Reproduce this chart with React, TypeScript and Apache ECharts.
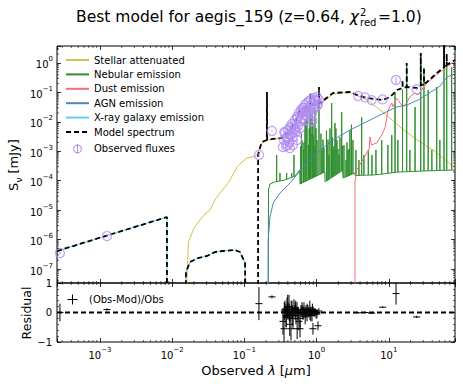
import React, { useEffect, useRef } from 'react';
import * as echarts from 'echarts';

const FONT = 'DejaVu Sans';
const X_MIN = 2.54e-4;
const X_MAX = 82.6;
const Y_MIN = 3.35e-8;
const Y_MAX = 3.78;
const ZERO = 1e-12;

const PURPLE = '#b08cf0';
const C_STELLAR = '#d6bf4a';
const C_NEB = '#2f8f2f';
const C_DUST = '#ef7079';
const C_AGN = '#4f84bd';
const C_XRAY = '#66ccee';

// ---- components (wavelength um, flux mJy) ----
const stellarAttenuated: number[][] = [
  [0.0159, ZERO], [0.0160, 4.23e-8], [0.0168, 8.27e-7], [0.0200, 2.4e-6], [0.02424, 4.63e-6],
  [0.02846, 7.4e-6], [0.03338, 1.01e-5], [0.0392, 2.21e-5], [0.04592, 3.83e-5], [0.0569, 7.16e-5],
  [0.0633, 1.06e-4], [0.079, 2.92e-4], [0.0926, 4.33e-4], [0.1089, 5.91e-4], [0.1274, 6.4e-4],
  [0.15, 7.48e-4], [0.164, 1.29e-3], [0.175, 1.91e-3], [0.212, 2.42e-3], [0.343, 2.83e-3],
  [0.428, 5.29e-3], [0.519, 0.0116], [0.589, 0.0216], [0.811, 0.0346], [1.114, 0.0405],
  [1.69, 0.0885], [2.9, 0.1], [4.99, 0.0553], [8.32, 0.0216], [14.3, 6.69e-3], [24.6, 2.42e-3],
  [40.9, 1.11e-3], [82.6, 2.7e-4],
];

const nebularContinuum: number[][] = [
  [0.2122, ZERO], [0.2157, 4.84e-5], [0.2262, 7.74e-5], [0.262, 9.05e-5], [0.365, 1.06e-4],
  [0.502, 1.45e-4], [0.585, 2.31e-4], [0.59, 7.74e-5], [1.3, 1.98e-4], [1.31, 9.05e-5],
  [2.32, 2.31e-4], [2.33, 1.24e-4], [3.4, 1.83e-4], [3.43, 1.5e-4], [5.85, 1.56e-4],
  [14.3, 1.98e-4], [82.6, 2.31e-4],
];
// [wavelength, base, peak]
const nebularLines: number[][] = [
  [0.28, 9.3e-5, 7.48e-4], [0.311, 9.8e-5, 1.83e-4], [0.385, 1.11e-4, 1.83e-4], [0.452, 1.3e-4, 1.83e-4],
  [0.486, 1.4e-4, 7.48e-4], [0.604, 7.9e-5, 1.5e-3], [0.617, 8.1e-5, 4e-3], [0.628, 8.34e-5, 2.42e-3],
  [0.658, 8.81e-5, 1.11e-3], [0.669, 9.0e-5, 2e-3], [0.691, 9.35e-5, 0.01], [0.713, 9.7e-5, 0.012],
  [0.736, 1.01e-4, 0.0116], [0.772, 1.07e-4, 1.64e-3], [0.79, 1.09e-4, 6e-3], [0.81, 1.13e-4, 0.0146],
  [0.821, 1.15e-4, 0.054], [0.836, 1.17e-4, 4e-3], [0.864, 1.22e-4, 0.018], [0.891, 1.26e-4, 9e-3],
  [0.906, 1.29e-4, 3.58e-3], [0.925, 1.32e-4, 1.5e-3], [0.95, 1.37e-4, 0.025], [0.981, 1.42e-4, 6e-3],
  [1.013, 1.47e-4, 2.42e-3], [1.08, 1.59e-4, 0.112], [1.15, 1.7e-4, 4e-3], [1.187, 1.78e-4, 1.11e-3],
  [1.226, 1.86e-4, 2.5e-3], [1.265, 1.93e-4, 1.3e-3], [1.37, 9.8e-5, 5e-3], [1.393, 1.0e-4, 1.64e-3],
  [1.438, 1.05e-4, 2.5e-3], [1.484, 1.11e-4, 7.48e-4], [1.532, 1.17e-4, 6e-3], [1.618, 1.28e-4, 0.0437],
  [1.648, 1.32e-4, 3e-3], [1.685, 1.37e-4, 1.11e-3], [1.737, 1.44e-4, 1.5e-3], [1.798, 1.52e-4, 9.15e-3],
  [1.852, 1.6e-4, 6e-3], [1.915, 1.69e-4, 2.42e-3], [1.977, 1.78e-4, 1.2e-3], [2.041, 1.87e-4, 7.48e-4],
  [2.107, 1.97e-4, 3e-3], [2.227, 2.16e-4, 0.0216], [2.28, 2.25e-4, 1.5e-3], [2.393, 1.27e-4, 1.64e-3],
  [2.552, 1.36e-4, 5.06e-4], [2.635, 1.4e-4, 2e-3], [2.72, 1.45e-4, 1.11e-3], [2.81, 1.5e-4, 1.2e-3],
  [2.897, 1.55e-4, 5.29e-3], [3.04, 1.62e-4, 8e-3], [3.187, 1.71e-4, 2.42e-3], [3.508, 1.51e-4, 1.11e-3],
  [3.859, 1.52e-4, 5.06e-4], [4.21, 1.53e-4, 0.0146], [4.526, 1.54e-4, 7.48e-4], [5.2, 1.55e-4, 1.11e-3],
  [5.84, 1.56e-4, 7.48e-4], [6.64, 1.6e-4, 1.11e-3], [7.98, 1.68e-4, 2.42e-3], [9.72, 1.78e-4, 1.64e-3],
  [11.0, 1.86e-4, 3.58e-3], [12.2, 1.92e-4, 0.1035], [13.37, 1.96e-4, 2.42e-3], [15.5, 2.0e-4, 0.124],
  [17.7, 2.03e-4, 0.85], [19.6, 2.05e-4, 1.11e-3], [23.1, 2.08e-4, 0.032], [27.7, 2.12e-4, 2.0],
  [30.7, 2.14e-4, 0.54], [35.1, 2.17e-4, 0.121], [39.5, 2.19e-4, 1.11e-3], [46.1, 2.22e-4, 0.153],
  [51.0, 2.24e-4, 2.42e-3], [58.2, 2.26e-4, 8], [63.4, 2.27e-4, 1.26], [74.3, 2.29e-4, 0.731],
];

const dustEmission: number[][] = [
  [3.4, ZERO], [3.4, 8.37e-5], [3.59, 2.31e-4], [4.21, 4.43e-4], [4.94, 8.75e-4], [5.32, 1.11e-3],
  [5.49, 3.06e-3], [5.76, 1.64e-3], [6.8, 1.91e-3], [7.98, 3.57e-3], [8.86, 6.18e-3], [9.35, 0.0135],
  [9.84, 0.0253], [10.4, 0.0328], [11.0, 0.0438], [11.5, 0.0328], [12.2, 0.0484], [12.9, 0.0632],
  [14.3, 0.0438], [15.7, 0.0328], [17.7, 0.0438], [19.7, 0.0716], [23.1, 0.0957], [25.4, 0.0818],
  [29.8, 0.142], [34.9, 0.226], [40.9, 0.309], [51.2, 0.494], [63.4, 0.731], [82.6, 1.17],
];

const agnEmission: number[][] = [
  [0.211, ZERO], [0.214, 9.68e-7], [0.226, 5.85e-6], [0.251, 1.75e-5], [0.311, 3.83e-5], [0.428, 8.37e-5],
  [0.589, 2.14e-4], [0.811, 5.06e-4], [1.0, 8.75e-4], [1.69, 2.42e-3], [2.9, 5.29e-3], [4.94, 0.0101],
  [6.8, 0.015], [9.35, 0.0221], [12.9, 0.032], [17.7, 0.0374], [25.4, 0.0553], [34.9, 0.0885],
  [51.2, 0.165], [64.0, 0.334], [82.6, 0.423],
];

const xrayGalaxy: number[][] = [
  [2.54e-4, 4.09e-7], [8.47e-3, 5.85e-6], [8.48e-3, ZERO], [0.0154, ZERO], [0.0155, 7.9e-8],
  [0.0177, 1.73e-7], [0.0228, 2.36e-7], [0.0303, 2.77e-7], [0.0392, 3.79e-7], [0.0506, 4.1e-7],
  [0.0741, 4.43e-7], [0.0869, 3.79e-7], [0.102, 1.6e-7], [0.109, ZERO],
];

const modelSpectrum: number[][] = [
  [2.54e-4, 4.09e-7], [8.47e-3, 5.85e-6], [8.48e-3, ZERO], [0.0154, ZERO], [0.0155, 7.9e-8],
  [0.0177, 1.73e-7], [0.0228, 2.36e-7], [0.0303, 2.77e-7], [0.0392, 3.79e-7], [0.0506, 4.1e-7],
  [0.0741, 4.43e-7], [0.0869, 3.79e-7], [0.102, 1.6e-7], [0.109, ZERO], [0.1545, ZERO],
  [0.155, 7.5e-4], [0.164, 1.29e-3], [0.175, 2.07e-3], [0.2045, 2.42e-3], [0.2056, 0.1035],
  [0.2067, 2.45e-3], [0.249, 2.62e-3], [0.343, 2.9e-3], [0.428, 5.3e-3], [0.519, 0.012],
  [0.589, 0.025], [0.69, 0.032], [0.818, 0.036], [0.821, 0.09], [0.824, 0.0362], [1.075, 0.041],
  [1.08, 0.153], [1.085, 0.0415], [1.114, 0.0438], [1.69, 0.0957], [2.9, 0.1035], [3.63, 0.0818],
  [4.99, 0.0647], [8.32, 0.0553], [10.4, 0.07], [13.0, 0.121], [15.5, 0.14], [15.5, 0.264],
  [15.6, 0.142], [17.7, 0.153], [17.7, 1.0], [17.8, 0.153], [24.6, 0.142], [27.7, 0.17], [27.7, 2.19],
  [27.8, 0.172], [30.7, 0.193], [30.7, 0.731], [30.8, 0.195], [33.8, 0.226], [46.5, 0.457],
  [58.2, 0.72], [58.2, 8], [58.4, 0.73], [63.4, 0.84], [63.4, 2.1], [63.6, 0.86], [82.6, 1.26],
];

// ---- observations ----
const obsWavelength = [
  2.79e-4, 1.25e-3, 0.159, 0.241,
  0.354, 0.365, 0.377, 0.389, 0.402, 0.415, 0.428, 0.442, 0.456, 0.471,
  0.486, 0.502, 0.518, 0.535, 0.553, 0.57, 0.589, 0.608, 0.628, 0.648,
  0.669, 0.691, 0.713, 0.736, 0.76, 0.785, 0.81, 0.836, 0.864, 0.891,
  0.92, 0.95, 0.981, 1.013, 1.046, 0.875,
  0.357, 0.38, 0.398, 0.418, 0.445, 0.468, 0.505, 0.515, 0.55, 0.592,
  0.632, 0.665, 0.695, 0.74, 0.782, 0.832, 0.895, 0.945, 1.01, 1.075,
  0.806, 0.538, 0.342, 0.425,
  3.78, 4.68, 5.79, 8.23, 12.6, 24.3,
];
const obsFlux = [
  3.5e-7, 1.32e-6, 7.5e-4, 4.9e-3,
  0.00242, 0.00418, 0.00151, 0.00306, 0.00529, 0.00207, 0.00669, 0.00358, 0.00846, 0.00164,
  0.00572, 0.0116, 0.00452, 0.0146, 0.00723, 0.02, 0.0107, 0.0253, 0.0135, 0.0296,
  0.0171, 0.0374, 0.0216, 0.0437, 0.0253, 0.0511, 0.032, 0.0553, 0.02, 0.0404,
  0.0647, 0.0296, 0.0511, 0.0699, 0.0404, 0.0107,
  0.00452, 0.00283, 0.00164, 0.00387, 0.00619, 0.00306, 0.00529, 0.00846, 0.0135, 0.00619,
  0.0216, 0.0296, 0.0116, 0.0171, 0.0216, 0.0146, 0.0296, 0.0553, 0.0346, 0.0553,
  0.00992, 0.00242, 0.0014, 0.00129,
  0.0757, 0.068, 0.055, 0.058, 0.264, 0.128,
];
const obsError = [
  0.4e-7, 0.12e-6, 1.2e-4, 3e-4,
  0.0003, 0.0005, 0.0002, 0.0004, 0.0006, 0.0003, 0.0008, 0.0004, 0.001, 0.0002,
  0.0007, 0.0013, 0.0005, 0.0016, 0.0008, 0.0022, 0.0012, 0.0027, 0.0015, 0.0032,
  0.0019, 0.004, 0.0024, 0.0045, 0.0027, 0.005, 0.0034, 0.0055, 0.0022, 0.0042,
  0.0065, 0.003, 0.005, 0.007, 0.0042, 0.0012,
  0.0005, 0.0003, 0.0002, 0.0004, 0.0007, 0.0004, 0.0006, 0.001, 0.0015, 0.0008,
  0.0025, 0.003, 0.0013, 0.002, 0.0025, 0.0017, 0.0035, 0.006, 0.004, 0.006,
  0.0012, 0.0003, 0.0002, 0.0002,
  0.003, 0.003, 0.0025, 0.003, 0.07, 0.008,
];
const residual = [
  0.0, 0.1, 0.3, 0.53,
  -0.55, 0.1, -0.1, 0.15, 0.05, 0.2, -0.05, -0.55, 0.1, -0.2,
  0.15, 0.05, -0.1, 0.1, 0.0, -0.3, -0.55, 0.05, 0.1, -0.05,
  0.15, 0.0, 0.05, -0.1, 0.1, 0.0, -0.05, 0.05, -0.1, -0.55,
  0.0, 0.05, -0.05, 0.0, -0.45, 0.1,
  0.05, -0.15, 0.2, 0.0, 0.1, -0.1, 0.05, 0.15, -0.05, -0.2,
  0.05, 0.0, -0.15, 0.1, 0.0, -0.1, 0.05, 0.0, -0.05, 0.05,
  0.15, -0.55, -0.3, -0.4,
  -0.01, 0.0, -0.02, 0.18, 0.64, -0.15,
];
const residualError = [
  0.3, 0.04, 0.56, 0.05,
  0.45, 0.3, 0.4, 0.35, 0.3, 0.4, 0.25, 0.4, 0.3, 0.35,
  0.3, 0.2, 0.3, 0.25, 0.2, 0.3, 0.3, 0.2, 0.25, 0.2,
  0.2, 0.15, 0.2, 0.2, 0.15, 0.15, 0.2, 0.15, 0.2, 0.2,
  0.15, 0.1, 0.15, 0.1, 0.15, 0.2,
  0.3, 0.35, 0.4, 0.3, 0.3, 0.35, 0.3, 0.25, 0.2, 0.3,
  0.2, 0.2, 0.25, 0.2, 0.15, 0.2, 0.15, 0.1, 0.15, 0.1,
  0.25, 0.35, 0.45, 0.4,
  0.02, 0.02, 0.02, 0.03, 0.37, 0.04,
];

// ---- ticks ----
const minorMantissas = [2, 3, 4, 5, 6, 7, 8, 9];
const xDecades = [-4, -3, -2, -1, 0, 1];
const yDecades = [-8, -7, -6, -5, -4, -3, -2, -1, 0];

function minorTicks(decades: number[], lo: number, hi: number) {
  const out: number[] = [];
  decades.forEach((d) => minorMantissas.forEach((m) => {
    const v = m * Math.pow(10, d);
    if (v > lo && v < hi) out.push(v);
  }));
  return out;
}

function buildNebular() {
  const pts: number[][] = nebularContinuum.map((p) => [p[0], p[1]]);
  nebularLines.forEach((l) => {
    pts.push([l[0], l[1]]);
    pts.push([l[0], l[2]]);
    pts.push([l[0], l[1]]);
  });
  return pts.map((p, i) => ({ p, i }))
    .sort((a, b) => (a.p[0] - b.p[0]) || (a.i - b.i))
    .map((o) => o.p);
}

const supLabel = (v: number) => {
  const e = Math.log10(v);
  const r = Math.round(e);
  if (Math.abs(e - r) > 1e-6) return '';
  return `{b|10}{s|${r < 0 ? '\u2212' + -r : r}}`;
};
const supRich = {
  b: { fontFamily: FONT, fontSize: 10, color: '#000', lineHeight: 14, verticalAlign: 'bottom' },
  s: { fontFamily: FONT, fontSize: 7, color: '#000', lineHeight: 8, verticalAlign: 'top' },
};

const majorTick = { show: true, inside: true, length: 4, lineStyle: { color: '#000', width: 0.8 } };
const noLine = { show: false, onZero: false };

function logAxis(grid: number, pos: string, min: number, max: number, split: number, labels: boolean) {
  return {
    gridIndex: grid, type: 'log', position: pos, min, max, splitNumber: split,
    axisLine: noLine, axisTick: majorTick, splitLine: { show: false },
    axisLabel: labels
      ? { show: true, formatter: supLabel, rich: supRich, margin: 4, hideOverlap: false }
      : { show: false },
  };
}
function resAxis(pos: string, labels: boolean) {
  return {
    gridIndex: 1, type: 'value', position: pos, min: -1, max: 1, interval: 1,
    axisLine: noLine, axisTick: majorTick, splitLine: { show: false },
    minorTick: { show: true, splitNumber: 5, length: 2, lineStyle: { color: '#000', width: 0.6 } },
    axisLabel: labels
      ? { show: true, fontFamily: FONT, fontSize: 10, color: '#000', margin: 5,
          formatter: (v: number) => (v < 0 ? '\u2212' + -v : String(v)) }
      : { show: false },
  };
}

function minorTickSeries(values: number[], xi: number, yi: number, isX: boolean, yRef: number, xRef: number) {
  return {
    type: 'custom', xAxisIndex: xi, yAxisIndex: yi, silent: true, z: 10,
    data: values.map((v) => (isX ? [v, yRef] : [xRef, v])),
    renderItem: (params: any, api: any) => {
      const cs = params.coordSys;
      const p = api.coord([api.value(0), api.value(1)]);
      const st = { stroke: '#000', lineWidth: 0.6 };
      if (isX) {
        return { type: 'group', children: [
          { type: 'line', shape: { x1: p[0], y1: cs.y, x2: p[0], y2: cs.y + 2 }, style: st },
          { type: 'line', shape: { x1: p[0], y1: cs.y + cs.height - 2, x2: p[0], y2: cs.y + cs.height }, style: st },
        ] };
      }
      return { type: 'group', children: [
        { type: 'line', shape: { x1: cs.x, y1: p[1], x2: cs.x + 2, y2: p[1] }, style: st },
        { type: 'line', shape: { x1: cs.x + cs.width - 2, y1: p[1], x2: cs.x + cs.width, y2: p[1] }, style: st },
      ] };
    },
  };
}

function buildOption() {
  const obsPoints = obsWavelength.map((l, i) => [l, obsFlux[i]]);
  const obsBars = obsWavelength.map((l, i) => [l, Math.max(obsFlux[i] - obsError[i], obsFlux[i] * 0.05), obsFlux[i] + obsError[i]]);
  const resData = obsWavelength.map((l, i) => [l, residual[i], residualError[i]]);
  const lineBase = { type: 'line', xAxisIndex: 0, yAxisIndex: 0, showSymbol: false, symbol: 'none', clip: true, silent: true };
  const xMinor = minorTicks(xDecades, X_MIN, X_MAX);
  const yMinor = minorTicks(yDecades, Y_MIN, Y_MAX);
  const hideSym = { opacity: 0 };

  return {
    animation: false,
    backgroundColor: '#fff',
    textStyle: { fontFamily: FONT },
    grid: [
      { left: 57, top: 46, width: 398, height: 237, show: true, borderColor: '#000', borderWidth: 1, backgroundColor: 'transparent' },
      { left: 57, top: 283, width: 398, height: 59, show: true, borderColor: '#000', borderWidth: 1, backgroundColor: 'transparent' },
    ],
    xAxis: [
      logAxis(0, 'bottom', X_MIN, X_MAX, 5, false),
      logAxis(0, 'top', X_MIN, X_MAX, 5, false),
      logAxis(1, 'bottom', X_MIN, X_MAX, 5, true),
      logAxis(1, 'top', X_MIN, X_MAX, 5, false),
    ],
    yAxis: [
      logAxis(0, 'left', Y_MIN, Y_MAX, 8, true),
      logAxis(0, 'right', Y_MIN, Y_MAX, 8, false),
      resAxis('left', true),
      resAxis('right', false),
    ],
    legend: [
      {
        left: 65, top: 55, orient: 'vertical', padding: 0, itemGap: 4.4, itemWidth: 23, itemHeight: 10,
        selectedMode: false,
        textStyle: { fontFamily: FONT, fontSize: 10, color: '#000' },
        data: [
          { name: 'Stellar attenuated', itemStyle: hideSym },
          { name: 'Nebular emission', itemStyle: hideSym },
          { name: 'Dust emission', itemStyle: hideSym },
          { name: 'AGN emission', itemStyle: hideSym },
          { name: 'X-ray galaxy emission', itemStyle: hideSym },
          { name: 'Model spectrum', itemStyle: hideSym },
          { name: 'Observed fluxes', icon: 'path://M4 0L4 10M0 5A4 4 0 1 0 8 5A4 4 0 1 0 0 5Z',
            itemStyle: { color: 'none', borderColor: PURPLE, borderWidth: 1, opacity: 1 } },
        ],
      },
      {
        left: 65, top: 292, orient: 'vertical', padding: 0, itemWidth: 23, itemHeight: 10,
        selectedMode: false,
        textStyle: { fontFamily: FONT, fontSize: 10, color: '#000' },
        data: [
          { name: '(Obs-Mod)/Obs', icon: 'path://M0 5L10 5M5 0L5 10',
            itemStyle: { color: 'none', borderColor: '#000', borderWidth: 1 } },
        ],
      },
    ],
    series: [
      { ...lineBase, name: 'Stellar attenuated', data: stellarAttenuated, lineStyle: { color: C_STELLAR, width: 1 }, itemStyle: { color: C_STELLAR }, z: 2 },
      { ...lineBase, name: 'Nebular emission', data: buildNebular(), lineStyle: { color: C_NEB, width: 1 }, itemStyle: { color: C_NEB }, z: 2 },
      { ...lineBase, name: 'Dust emission', data: dustEmission, lineStyle: { color: C_DUST, width: 1 }, itemStyle: { color: C_DUST }, z: 2 },
      { ...lineBase, name: 'AGN emission', data: agnEmission, lineStyle: { color: C_AGN, width: 1 }, itemStyle: { color: C_AGN }, z: 2 },
      { ...lineBase, name: 'X-ray galaxy emission', data: xrayGalaxy, lineStyle: { color: C_XRAY, width: 1 }, itemStyle: { color: C_XRAY }, z: 2 },
      { ...lineBase, name: 'Model spectrum', data: modelSpectrum, lineStyle: { color: '#000', width: 1.8, type: [5, 3] }, itemStyle: { color: '#000' }, z: 3 },
      {
        type: 'scatter', name: 'Observed fluxes', xAxisIndex: 0, yAxisIndex: 0, data: obsPoints, symbol: 'circle', symbolSize: 9,
        itemStyle: { color: 'rgba(255,255,255,0)', borderColor: PURPLE, borderWidth: 1.2 }, z: 5, silent: true,
      },
      {
        type: 'custom', name: 'Observed fluxes', xAxisIndex: 0, yAxisIndex: 0, data: obsBars, z: 5, silent: true,
        encode: { x: 0, y: [1, 2] },
        renderItem: (params: any, api: any) => {
          const a = api.coord([api.value(0), api.value(1)]);
          const b = api.coord([api.value(0), api.value(2)]);
          return { type: 'line', shape: { x1: a[0], y1: a[1], x2: b[0], y2: b[1] }, style: { stroke: PURPLE, lineWidth: 1 } };
        },
      },
      {
        type: 'line', xAxisIndex: 2, yAxisIndex: 2, data: [[X_MIN, 0], [X_MAX, 0]], showSymbol: false, symbol: 'none', silent: true,
        lineStyle: { color: '#000', width: 1.8, type: [5, 3] }, z: 3,
      },
      {
        type: 'custom', name: '(Obs-Mod)/Obs', xAxisIndex: 2, yAxisIndex: 2, data: resData, z: 5, silent: true, clip: true,
        encode: { x: 0, y: 1 },
        renderItem: (params: any, api: any) => {
          const x = api.value(0), r = api.value(1), e = api.value(2);
          const c = api.coord([x, r]);
          const lo = api.coord([x, r - e]);
          const hi = api.coord([x, r + e]);
          const st = { stroke: '#000', lineWidth: 1 };
          return { type: 'group', children: [
            { type: 'line', shape: { x1: c[0], y1: lo[1], x2: c[0], y2: hi[1] }, style: st },
            { type: 'line', shape: { x1: c[0] - 3.5, y1: c[1], x2: c[0] + 3.5, y2: c[1] }, style: st },
          ] };
        },
      },
      minorTickSeries(xMinor, 0, 0, true, Y_MIN, X_MIN),
      minorTickSeries(yMinor, 0, 0, false, Y_MIN, X_MIN),
      minorTickSeries(xMinor, 2, 2, true, -1, X_MIN),
    ],
    graphic: [
      { type: 'text', x: 359, y: 17, silent: true, style: {
        text: 'Best model for aegis_159 (z=0.64, {i|\u03c7}', fontFamily: FONT, fontSize: 15.5, fill: '#000',
        align: 'right', verticalAlign: 'middle',
        rich: { i: { fontFamily: FONT, fontStyle: 'italic', fontSize: 15.5, fill: '#000' } } } },
      { type: 'text', x: 360, y: 12, silent: true, style: { text: '2', fontFamily: FONT, fontSize: 10, fill: '#000', align: 'left', verticalAlign: 'middle' } },
      { type: 'text', x: 360, y: 22, silent: true, style: { text: 'red', fontFamily: FONT, fontSize: 10, fill: '#000', align: 'left', verticalAlign: 'middle' } },
      { type: 'text', x: 378, y: 17, silent: true, style: { text: '=1.0)', fontFamily: FONT, fontSize: 15.5, fill: '#000', align: 'left', verticalAlign: 'middle' } },
      { type: 'text', x: 256, y: 370, silent: true, style: {
        text: 'Observed {i|\u03bb} [{i|\u03bc}m]', fontFamily: FONT, fontSize: 13, fill: '#000',
        align: 'center', verticalAlign: 'middle',
        rich: { i: { fontFamily: FONT, fontStyle: 'italic', fontSize: 13, fill: '#000' } } } },
      { type: 'text', x: 13, y: 165, rotation: Math.PI / 2, silent: true, style: {
        text: 'S{s|\u03bd} [mJy]', fontFamily: FONT, fontSize: 13, fill: '#000',
        align: 'center', verticalAlign: 'middle',
        rich: { s: { fontFamily: FONT, fontSize: 9, fill: '#000', lineHeight: 20, verticalAlign: 'bottom' } } } },
      { type: 'text', x: 26, y: 313, rotation: Math.PI / 2, silent: true, style: {
        text: 'Residual', fontFamily: FONT, fontSize: 12.5, fill: '#000', align: 'center', verticalAlign: 'middle' } },
    ],
  };
}

export default function App() {
  const ref = useRef<HTMLDivElement>(null);
  useEffect(() => {
    if (!ref.current) return;
    const chart = echarts.init(ref.current, null, { renderer: 'svg' });
    chart.setOption(buildOption() as any);
    return () => chart.dispose();
  }, []);
  return <div ref={ref} style={{ position: 'fixed', left: 0, top: 0, width: 463, height: 386, background: '#fff' }} />;
}
